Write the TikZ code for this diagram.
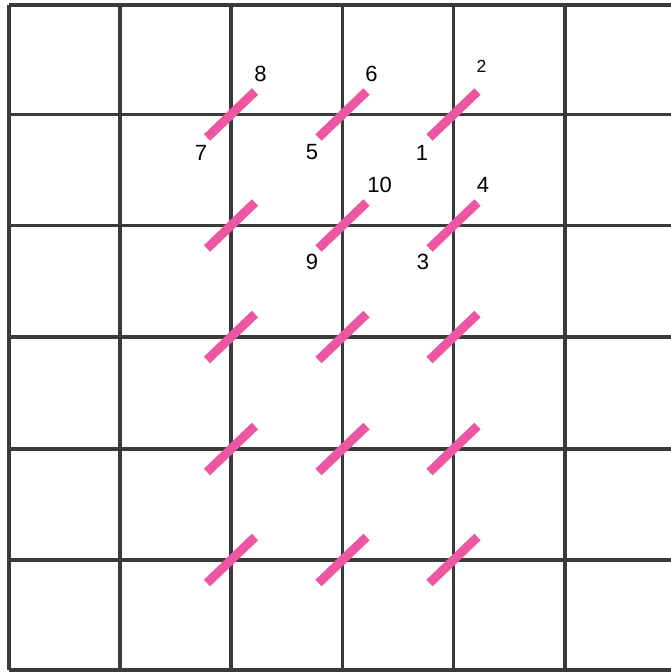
\documentclass[tikz,border=0pt]{standalone}
\usepackage{fontspec}
\setmainfont{Liberation Sans}
\definecolor{gridgray}{RGB}{58,58,58}
\definecolor{stitchpink}{RGB}{237,86,160}
\begin{document}
\begin{tikzpicture}[x=1pt,y=-1pt,
  gridline/.style={draw=gridgray,line width=3.2pt},
  stitch/.style={draw=stitchpink,line width=9pt},
  num/.style={inner sep=0pt,font=\fontsize{22}{22}\selectfont},
  smallnum/.style={inner sep=0pt,font=\fontsize{17.5}{17.5}\selectfont}]
\useasboundingbox (0,0) rectangle (671,672);
\fill[white] (0,0) rectangle (671,672);
\clip (0,0) rectangle (671,672);
% grid
\foreach \x in {9,120,231,342.5,453.5,565} \draw[gridline] (\x,5) -- (\x,670);
\foreach \y in {5,114.5,225.5,337,449,560,670} \draw[gridline] (9,\y) -- (690,\y);
% stitches
\foreach \x in {231,342.5,453.5}
  \foreach \y in {114.5,225.5,337,449,560}
    \draw[stitch] (\x-24,\y+23) -- (\x+24,\y-23);
% labels
\node[num] (n8) at (260.5,74) {8};
\node[num] (n7) at (201,152.5) {7};
\node[num] (n6) at (371.5,74) {6};
\node[num] (n5) at (312,152.5) {5};
\node[smallnum] (n2) at (481.5,66) {2};
\node[num] (n1) at (422,152.5) {1};
\node[num] (n10) at (379.5,185) {10};
\node[num] (n4) at (483,185) {4};
\node[num] (n9) at (312,262) {9};
\node[num] (n3) at (423,262) {3};
\end{tikzpicture}
\end{document}
